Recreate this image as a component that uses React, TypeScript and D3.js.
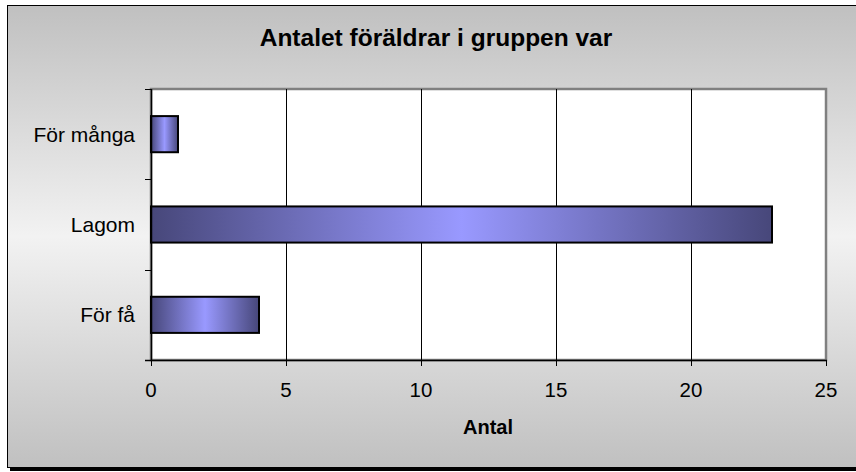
import React, { useEffect, useRef } from 'react';
import * as d3 from 'd3';

// Kategorier (uppifrån och ned) och värden
const categories = ['För många', 'Lagom', 'För få'];
const values = [1, 23, 4];
const xTicks = [0, 5, 10, 15, 20, 25];
const chartTitle = 'Antalet föräldrar i gruppen var';
const xTitle = 'Antal';

const W = 856;
const H = 472;

const App: React.FC = () => {
  const ref = useRef<SVGSVGElement>(null);

  useEffect(() => {
    if (!ref.current) return;
    const svg = d3.select(ref.current);
    svg.selectAll('*').remove();

    const plot = { left: 151, right: 826, top: 89, bottom: 360 };
    const font = '"Liberation Sans", Arial, sans-serif';

    const defs = svg.append('defs');
    const bg = defs.append('linearGradient')
      .attr('id', 'bg').attr('x1', 0).attr('y1', 0).attr('x2', 0).attr('y2', 1);
    bg.append('stop').attr('offset', '0%').attr('stop-color', '#c0c0c0');
    bg.append('stop').attr('offset', '50%').attr('stop-color', '#f2f2f2');
    bg.append('stop').attr('offset', '100%').attr('stop-color', '#c0c0c0');

    const bar = defs.append('linearGradient')
      .attr('id', 'bar').attr('x1', 0).attr('y1', 0).attr('x2', 1).attr('y2', 0);
    bar.append('stop').attr('offset', '0%').attr('stop-color', '#47477a');
    bar.append('stop').attr('offset', '50%').attr('stop-color', '#9999ff');
    bar.append('stop').attr('offset', '100%').attr('stop-color', '#47477a');

    // Ram med skugga
    svg.append('rect')
      .attr('x', 10).attr('y', 8).attr('width', 870).attr('height', 463)
      .attr('fill', '#000');
    svg.append('rect')
      .attr('x', 7.5).attr('y', 5.5).attr('width', 870).attr('height', 462)
      .attr('fill', 'url(#bg)').attr('stroke', '#000').attr('stroke-width', 1);

    // Skalor
    const x = d3.scaleLinear().domain([0, 25]).range([plot.left, plot.right]);
    const y = d3.scaleBand<string>()
      .domain(categories)
      .range([plot.top, plot.bottom])
      .paddingInner(0.6)
      .paddingOuter(0.3);

    // Ritytan
    svg.append('rect')
      .attr('x', plot.left).attr('y', plot.top)
      .attr('width', plot.right - plot.left).attr('height', plot.bottom - plot.top)
      .attr('fill', '#fff').attr('stroke', '#808080').attr('stroke-width', 2.5);

    // Stödlinjer
    svg.selectAll('.grid')
      .data(xTicks.slice(1, -1))
      .enter().append('line')
      .attr('x1', d => Math.round(x(d)) + 0.5).attr('x2', d => Math.round(x(d)) + 0.5)
      .attr('y1', plot.top).attr('y2', plot.bottom)
      .attr('stroke', '#000').attr('stroke-width', 1);

    // Staplar
    svg.selectAll('.bar')
      .data(values)
      .enter().append('rect')
      .attr('x', x(0))
      .attr('y', (_, i) => y(categories[i]) as number)
      .attr('width', d => x(d) - x(0))
      .attr('height', y.bandwidth())
      .attr('fill', 'url(#bar)')
      .attr('stroke', '#000')
      .attr('stroke-width', 2);

    // Y-axel
    const yAxisX = plot.left + 0.5;
    svg.append('line')
      .attr('x1', yAxisX).attr('x2', yAxisX)
      .attr('y1', plot.top).attr('y2', plot.bottom)
      .attr('stroke', '#000').attr('stroke-width', 1.5);
    const step = y.step();
    const yTickPos = d3.range(categories.length + 1).map(i => plot.top + i * step);
    svg.selectAll('.ytick')
      .data(yTickPos)
      .enter().append('line')
      .attr('x1', plot.left - 6).attr('x2', plot.left)
      .attr('y1', d => Math.round(d) + 0.5).attr('y2', d => Math.round(d) + 0.5)
      .attr('stroke', '#000');
    svg.selectAll('.ylabel')
      .data(categories)
      .enter().append('text')
      .attr('x', 135)
      .attr('y', d => (y(d) as number) + y.bandwidth() / 2)
      .attr('dy', '0.35em')
      .attr('text-anchor', 'end')
      .style('font-family', font)
      .style('font-size', '21px')
      .attr('fill', '#000')
      .text(d => d);

    // X-axel
    svg.append('line')
      .attr('x1', plot.left - 6).attr('x2', plot.right + 1)
      .attr('y1', plot.bottom + 0.5).attr('y2', plot.bottom + 0.5)
      .attr('stroke', '#000').attr('stroke-width', 1.5);
    svg.selectAll('.xtick')
      .data(xTicks)
      .enter().append('line')
      .attr('x1', d => Math.round(x(d)) + 0.5).attr('x2', d => Math.round(x(d)) + 0.5)
      .attr('y1', plot.bottom).attr('y2', plot.bottom + 6)
      .attr('stroke', '#000');
    svg.selectAll('.xlabel')
      .data(xTicks)
      .enter().append('text')
      .attr('x', d => x(d))
      .attr('y', 397)
      .attr('text-anchor', 'middle')
      .style('font-family', font)
      .style('font-size', '20.5px')
      .attr('fill', '#000')
      .text(d => d.toString());

    // Axeltitel
    svg.append('text')
      .attr('x', 488).attr('y', 434)
      .attr('text-anchor', 'middle')
      .style('font-family', font)
      .style('font-size', '20px')
      .style('font-weight', 'bold')
      .attr('fill', '#000')
      .text(xTitle);

    // Diagramtitel
    svg.append('text')
      .attr('x', 436).attr('y', 46)
      .attr('text-anchor', 'middle')
      .style('font-family', font)
      .style('font-size', '24.5px')
      .style('font-weight', 'bold')
      .attr('fill', '#000')
      .text(chartTitle);
  }, []);

  return (
    <svg
      ref={ref}
      width={W}
      height={H}
      style={{ position: 'absolute', left: 0, top: 0, display: 'block' }}
    />
  );
};

export default App;
